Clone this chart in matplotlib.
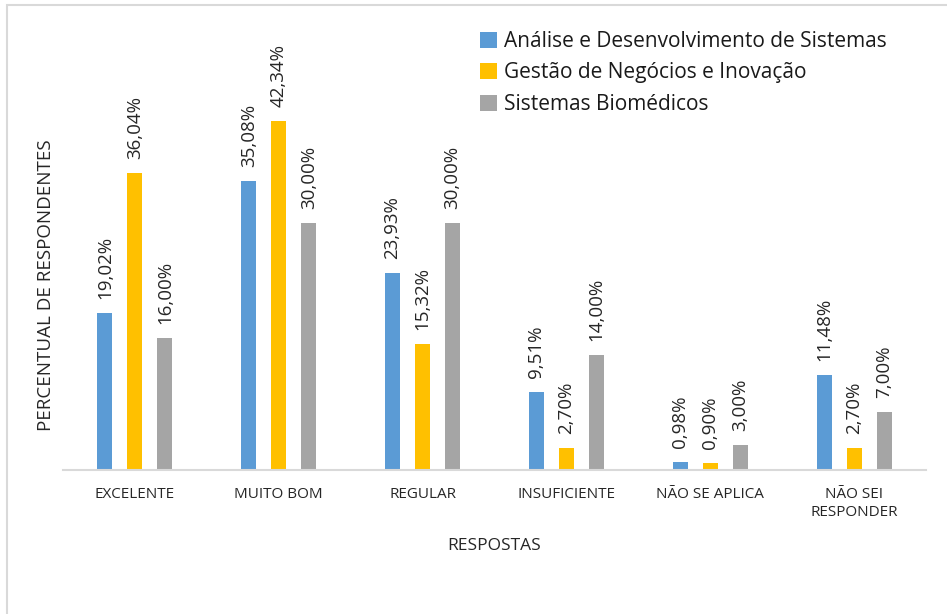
import numpy as np
import matplotlib
matplotlib.use("Agg")
import matplotlib.pyplot as plt
from matplotlib.patches import Rectangle

plt.rcParams["font.family"] = ["Open Sans", "DejaVu Sans"]

# data
categorias = ["EXCELENTE", "MUITO BOM", "REGULAR", "INSUFICIENTE", "NÃO SE APLICA", "NÃO SEI\nRESPONDER"]
series = ["Análise e Desenvolvimento de Sistemas", "Gestão de Negócios e Inovação", "Sistemas Biomédicos"]
ads = [19.02, 35.08, 23.93, 9.51, 0.98, 11.48]
gni = [36.04, 42.34, 15.32, 2.70, 0.90, 2.70]
sb = [16.00, 30.00, 30.00, 14.00, 3.00, 7.00]
cores = ["#5B9BD5", "#FFC000", "#A5A5A5"]

W, H = 947, 614
fig = plt.figure(figsize=(W / 100, H / 100), dpi=100)

# light frame of the original chart area (cropped)
fig.patches.append(Rectangle((7 / W, -0.1), 1.2, 1 - 5 / H + 0.1, transform=fig.transFigure,
                             fill=False, edgecolor="#d9d9d9", linewidth=1.5))

ax = fig.add_axes([63 / W, 1 - 470 / H, (926 - 63) / W, (470 - 99) / H])

x = np.arange(len(categorias))
larg = 0.104
passo = 0.209
for i, (nome, vals) in enumerate(zip(series, [ads, gni, sb])):
    pos = x + (i - 1) * passo
    ax.bar(pos, vals, width=larg, color=cores[i], label=nome, zorder=2)
    for xp, v in zip(pos, vals):
        ax.annotate(f"{v:.2f}%".replace(".", ","), (xp, v), xytext=(0, 10),
                    textcoords="offset points", rotation=90, ha="center", va="bottom",
                    fontsize=13.5, color="#262626")

ax.set_xlim(-0.5, len(categorias) - 0.5)
ax.set_ylim(0, 45)
ax.set_yticks([])
for s in ["top", "right", "left"]:
    ax.spines[s].set_visible(False)
ax.spines["bottom"].set_color("#d9d9d9")
ax.spines["bottom"].set_linewidth(1.5)
ax.set_xticks(x)
ax.set_xticklabels(categorias, fontsize=11, color="#262626", linespacing=1.3)
ax.tick_params(axis="x", length=0, pad=12)

ax.set_xlabel("RESPOSTAS", fontsize=12.5, color="#262626", labelpad=13)
fig.text(46 / W, 1 - 285 / H, "PERCENTUAL DE RESPONDENTES", rotation=90, ha="center", va="center",
         fontsize=13.5, color="#262626")

leg = ax.legend(loc="upper left", bbox_to_anchor=(480 / W, 1 - 31 / H), bbox_transform=fig.transFigure,
                frameon=False, fontsize=15, handlelength=0.8, handleheight=0.8, handletextpad=0.35,
                labelspacing=0.5, borderaxespad=0, borderpad=0)
for t in leg.get_texts():
    t.set_color("#1a1a1a")

fig.savefig("out.png", dpi=100)
